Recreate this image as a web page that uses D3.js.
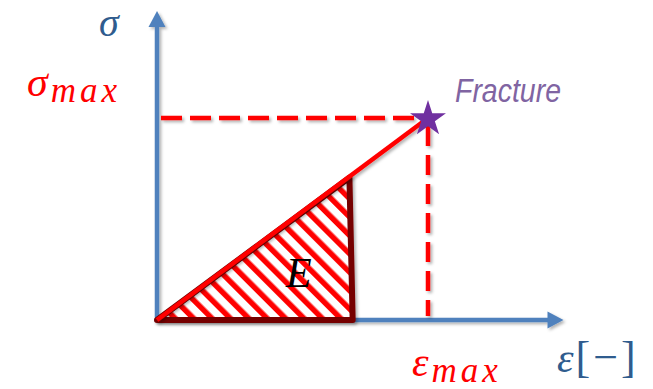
<!DOCTYPE html>
<html>
<head>
<meta charset="utf-8">
<script src="https://cdn.jsdelivr.net/npm/d3@7"></script>
<style>
  body { margin: 0; background: #fff; }
  svg { display: block; }
  .math { font-family: "Liberation Serif", "DejaVu Serif", serif; font-style: italic; }
</style>
</head>
<body>
<div id="root"></div>
<script>
// data (strain, stress normalised so fracture point = 1,1)
var axisEnd = [1.5, 1.53];                 // x axis end, y axis end
var curveStrain = [0, 1];
var curveStress = [0, 1];
var triStrain = [0, 0.71, 0.722];
var triStress = [0, 0.705, 0];
var fracture = [1, 1];
var labels = {
    yAxis: "σ",
    xAxis: ["ε", "[−]"],
    sigmaMax: ["σ", "max"],
    epsMax: ["ε", "max"],
    fracture: "Fracture",
    modulus: "E"
};

var width = 653, height = 389;
var origin = { x: 157, y: 320 };

var x = d3.scaleLinear().domain([0, 1]).range([origin.x, 428]);
var y = d3.scaleLinear().domain([0, 1]).range([origin.y, 118]);

var axisBlue = "#4f81bd",
    labelBlue = "#2f5c8e",
    red = "#ff0000",
    darkRed = "#760000",
    purple = "#7030a0";

var svg = d3.select("#root")
    .append("svg")
    .attr("width", width)
    .attr("height", height);

var defs = svg.append("defs");

var shadow = defs.append("filter")
    .attr("id", "shadow")
    .attr("x", "-20%").attr("y", "-20%")
    .attr("width", "140%").attr("height", "140%");
shadow.append("feDropShadow")
    .attr("dx", 2).attr("dy", 2)
    .attr("stdDeviation", 1.5)
    .attr("flood-color", "#000")
    .attr("flood-opacity", 0.3);

// diagonal red hatching
var hatch = defs.append("pattern")
    .attr("id", "hatch")
    .attr("patternUnits", "userSpaceOnUse")
    .attr("width", 13).attr("height", 10)
    .attr("patternTransform", "rotate(-45)");
hatch.append("rect")
    .attr("width", 13).attr("height", 10)
    .attr("fill", "#fff");
hatch.append("rect")
    .attr("x", 0).attr("width", 5.5).attr("height", 10)
    .attr("fill", red);

// axes with arrows
var axes = svg.append("g").attr("filter", "url(#shadow)");

axes.append("line")
    .attr("x1", x(0)).attr("y1", y(0))
    .attr("x2", x(axisEnd[0]) - 14).attr("y2", y(0))
    .attr("stroke", axisBlue)
    .attr("stroke-width", 4.5);
axes.append("path")
    .attr("d", d3.line()([
        [x(axisEnd[0]), y(0)],
        [x(axisEnd[0]) - 16, y(0) - 8.5],
        [x(axisEnd[0]) - 16, y(0) + 8.5]
    ]) + "Z")
    .attr("fill", axisBlue);

axes.append("line")
    .attr("x1", x(0)).attr("y1", y(0) + 2)
    .attr("x2", x(0)).attr("y2", y(axisEnd[1]) + 14)
    .attr("stroke", axisBlue)
    .attr("stroke-width", 4.5);
axes.append("path")
    .attr("d", d3.line()([
        [x(0), y(axisEnd[1])],
        [x(0) - 8.5, y(axisEnd[1]) + 16],
        [x(0) + 8.5, y(axisEnd[1]) + 16]
    ]) + "Z")
    .attr("fill", axisBlue);

// dashed guides to fracture point
var guides = svg.append("g").attr("filter", "url(#shadow)");
guides.append("line")
    .attr("x1", x(0) + 4).attr("y1", y(fracture[1]))
    .attr("x2", x(fracture[0])).attr("y2", y(fracture[1]))
    .attr("stroke", red)
    .attr("stroke-width", 4.5)
    .attr("stroke-dasharray", "21,8");
guides.append("line")
    .attr("x1", x(fracture[0])).attr("y1", y(fracture[1]) + 8)
    .attr("x2", x(fracture[0])).attr("y2", y(0) - 4)
    .attr("stroke", red)
    .attr("stroke-width", 4.5)
    .attr("stroke-dasharray", "20,9");

// hatched triangle (modulus)
var tri = triStrain.map(function (d, i) { return [x(d), y(triStress[i])]; });
svg.append("path")
    .attr("d", d3.line()(tri) + "Z")
    .attr("fill", "url(#hatch)")
    .attr("stroke", darkRed)
    .attr("stroke-width", 6)
    .attr("stroke-linejoin", "round")
    .attr("filter", "url(#shadow)");

// stress-strain line
svg.append("path")
    .datum(curveStrain.map(function (d, i) { return [x(d), y(curveStress[i])]; }))
    .attr("d", d3.line())
    .attr("fill", "none")
    .attr("stroke", red)
    .attr("stroke-width", 4.5)
    .attr("filter", "url(#shadow)");

// fracture star
svg.append("path")
    .attr("d", d3.symbol().type(d3.symbolStar).size(400)())
    .attr("transform", "translate(" + x(fracture[0]) + "," + (y(fracture[1]) + 1) + ")")
    .attr("fill", purple);

// labels
svg.append("text")
    .attr("class", "math")
    .attr("x", 99).attr("y", 36)
    .attr("font-size", 40)
    .attr("fill", labelBlue)
    .text(labels.yAxis);

var sm = svg.append("text")
    .attr("class", "math")
    .attr("x", 27).attr("y", 96)
    .attr("fill", red);
sm.append("tspan").attr("font-size", 42).text(labels.sigmaMax[0]);
sm.append("tspan").attr("font-size", 35).attr("dy", 6).attr("dx", 3)
    .attr("letter-spacing", 4).text(labels.sigmaMax[1]);

var em = svg.append("text")
    .attr("class", "math")
    .attr("x", 412).attr("y", 376)
    .attr("fill", red);
em.append("tspan").attr("font-size", 42).text(labels.epsMax[0]);
em.append("tspan").attr("font-size", 35).attr("dy", 6).attr("dx", 3)
    .attr("letter-spacing", 4).text(labels.epsMax[1]);

var xl = svg.append("text")
    .attr("x", 557).attr("y", 372)
    .attr("font-family", "Liberation Serif, serif")
    .attr("fill", labelBlue);
xl.append("tspan").attr("font-style", "italic").attr("font-size", 42).text(labels.xAxis[0]);
xl.append("tspan").attr("font-size", 44).attr("dx", 2).attr("letter-spacing", 3).text(labels.xAxis[1]);

svg.append("text")
    .attr("x", 455).attr("y", 102)
    .attr("font-family", "Liberation Sans, Arial, sans-serif")
    .attr("font-style", "italic")
    .attr("font-size", 34)
    .attr("textLength", 106)
    .attr("lengthAdjust", "spacingAndGlyphs")
    .attr("fill", "#8064a2")
    .text(labels.fracture);

svg.append("text")
    .attr("class", "math")
    .attr("x", 286).attr("y", 287)
    .attr("font-size", 42)
    .attr("fill", "#000")
    .text(labels.modulus);
</script>
</body>
</html>
